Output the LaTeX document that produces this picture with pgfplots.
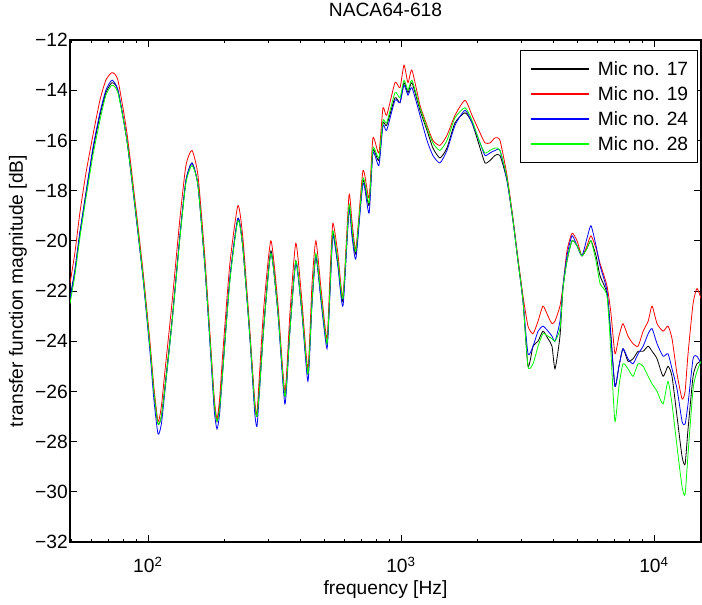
\documentclass[border=0pt]{standalone}
\usepackage{fontspec}
\setmainfont{Liberation Sans}
\usepackage{pgfplots}
\usepackage{pgfplotstable}
\pgfplotsset{compat=1.18}
\definecolor{mred}{rgb}{1,0,0}
\definecolor{mblue}{rgb}{0,0,1}
\definecolor{mgreen}{rgb}{0,1,0}
\newcommand\ff{\fontsize{14.4}{17.3}\selectfont}
\pgfplotstableread{
f      m17    m19    m24    m28
49.2   -22.3  -21.7  -22.3  -22.5
51.4   -21.2  -20.5  -21.2  -21.4
53.8   -19.7  -18.9  -19.7  -19.9
56.9   -18.1  -17.3  -18.1  -18.3
60.6   -16.4  -15.8  -16.3  -16.6
64.6   -15.0  -14.4  -14.9  -15.2
68.2   -14.1  -13.6  -14.0  -14.2
72.1   -13.7  -13.3  -13.6  -13.8
76.1   -14.0  -13.6  -14.0  -14.1
82.6   -16.0  -15.7  -16.0  -16.0
88.9   -18.6  -18.4  -18.7  -18.6
95.6   -21.4  -21.2  -21.5  -21.4
101.8  -24.2  -24.0  -24.4  -24.2
105.5  -26.0  -25.8  -26.3  -26.0
109.6  -27.3  -27.2  -27.7  -27.3
113.0  -27.0  -26.6  -27.3  -27.0
116.7  -25.8  -25.2  -26.0  -25.9
124.4  -23.2  -22.5  -23.3  -23.3
133.8  -19.8  -19.1  -19.8  -19.9
141.3  -17.6  -17.0  -17.6  -17.7
149.3  -16.9  -16.4  -16.9  -17.0
157.7  -17.8  -17.4  -17.8  -17.8
168    -21.0  -20.7  -21.1  -21.0
177.4  -24.5  -24.3  -24.7  -24.5
183    -26.5  -26.3  -26.8  -26.5
187.5  -27.2  -27.1  -27.5  -27.2
192    -26.6  -26.3  -26.9  -26.7
197.9  -25.0  -24.4  -25.1  -25.1
210.8  -21.5  -20.9  -21.5  -21.6
226.8  -19.1  -18.6  -19.1  -19.2
237.3  -20.3  -19.9  -20.3  -20.3
252.9  -23.8  -23.6  -23.9  -23.8
264    -26.5  -26.3  -26.8  -26.5
269.6  -27.0  -26.9  -27.4  -27.0
276    -25.8  -25.3  -26.0  -25.9
287.3  -23.3  -22.6  -23.4  -23.4
306.2  -20.4  -20.0  -20.5  -20.5
326.3  -22.8  -22.5  -22.9  -22.8
347.8  -26.2  -26.0  -26.5  -26.2
364    -23.5  -22.9  -23.6  -23.6
384.3  -20.8  -20.1  -20.9  -20.8
406    -22.8  -22.4  -22.9  -22.8
428.8  -25.3  -25.1  -25.6  -25.3
444.6  -22.5  -21.8  -22.6  -22.5
461    -20.6  -20.0  -20.6  -20.5
483    -22.3  -21.9  -22.4  -22.2
510    -24.1  -23.9  -24.3  -24.1
524    -22.0  -21.4  -22.1  -21.9
538    -19.7  -19.3  -19.8  -19.6
563    -20.9  -20.5  -21.0  -20.8
590    -22.4  -22.2  -22.6  -22.3
623    -18.7  -18.2  -18.8  -18.6
640    -19.6  -19.2  -19.8  -19.5
664    -20.5  -20.3  -20.7  -20.4
708    -17.6  -17.2  -17.7  -17.5
748    -18.6  -18.3  -18.9  -18.5
775    -16.4  -15.9  -16.5  -16.3
818    -16.8  -16.5  -17.0  -16.7
849    -15.3  -14.7  -15.4  -15.2
878    -15.4  -15.0  -15.6  -15.3
947    -14.3  -13.7  -14.4  -14.1
991    -14.5  -13.9  -14.5  -14.3
1028   -13.7  -13.0  -13.8  -13.6
1066   -14.1  -13.7  -14.2  -14.0
1105   -13.7  -13.2  -13.9  -13.6
1189   -14.8  -14.6  -15.0  -14.7
1267   -15.6  -15.4  -16.0  -15.5
1337   -16.3  -16.0  -16.6  -16.1
1425   -16.7  -16.2  -16.9  -16.4
1520   -16.3  -15.8  -16.4  -16.0
1635   -15.3  -15.0  -15.4  -15.1
1791   -14.9  -14.4  -14.8  -14.7
1909   -15.3  -15.0  -15.3  -15.2
2053   -16.3  -15.7  -16.1  -16.1
2148   -16.9  -16.1  -16.6  -16.5
2249   -16.8  -16.1  -16.5  -16.4
2355   -16.6  -15.9  -16.4  -16.3
2462   -16.6  -16.0  -16.4  -16.4
2625   -17.6  -17.4  -17.6  -17.5
2772   -19.2  -19.1  -19.2  -19.2
2900   -20.8  -20.7  -20.8  -20.8
3036   -22.4  -22.2  -22.4  -22.4
3177   -25.0  -23.4  -24.5  -25.0
3326   -24.2  -23.7  -24.2  -24.9
3482   -24.0  -23.2  -23.6  -24.2
3641   -23.6  -22.6  -23.4  -23.7
3811   -23.9  -23.0  -23.6  -23.8
3953   -24.2  -23.3  -23.8  -23.9
4062   -25.1  -23.2  -24.0  -24.0
4250   -23.8  -22.6  -23.2  -23.5
4368   -21.9  -21.8  -21.8  -21.9
4529   -20.8  -20.4  -20.6  -20.8
4742   -20.0  -19.7  -19.8  -20.0
4965   -20.2  -20.0  -20.2  -20.2
5190   -20.6  -20.6  -20.6  -20.6
5434   -20.3  -20.2  -19.9  -20.3
5636   -20.0  -19.8  -19.4  -20.0
5901   -20.6  -20.3  -20.2  -20.8
6120   -21.4  -20.9  -21.0  -21.7
6520   -22.1  -21.8  -22.0  -22.2
6761   -23.8  -22.9  -23.9  -24.5
7010   -25.8  -24.5  -25.8  -27.2
7270   -25.0  -23.8  -25.0  -25.8
7540   -24.3  -23.3  -24.3  -24.9
7894   -24.8  -23.8  -24.7  -25.1
8265   -24.7  -24.1  -24.9  -25.4
8653   -24.4  -24.2  -24.5  -24.9
9060   -24.4  -23.6  -24.2  -25.0
9484   -24.2  -23.2  -23.7  -25.4
9824   -24.4  -22.6  -23.5  -25.7
10280  -24.7  -23.3  -24.1  -26.0
10860  -25.4  -23.6  -24.6  -26.5
11360  -25.0  -23.4  -24.5  -25.6
11780  -25.4  -23.9  -25.1  -26.5
12330  -27.0  -25.3  -25.9  -28.2
12910  -28.6  -26.3  -27.2  -29.8
13270  -28.9  -26.0  -27.3  -30.1
13630  -27.5  -24.5  -26.5  -28.5
14270  -25.4  -22.5  -24.7  -25.9
14790  -24.9  -21.9  -24.6  -25.2
15340  -24.8  -22.3  -24.9  -24.8
}\data
\begin{document}
\begin{tikzpicture}
\begin{axis}[
  scale only axis, width=473.25pt, height=376.5pt,
  xmode=log, xmin=49.2, xmax=15340, ymin=-32, ymax=-12,
  ytick={-32,-30,-28,-26,-24,-22,-20,-18,-16,-14,-12},
  yticklabels={−32,−30,−28,−26,−24,−22,−20,−18,−16,−14,−12},
  xtick={100,1000,10000},
  xticklabels={10\textsuperscript{2},10\textsuperscript{3},10\textsuperscript{4}},
  minor xtick={50,60,70,80,90,200,300,400,500,600,700,800,900,2000,3000,4000,5000,6000,7000,8000,9000},
  tick align=inside, tick pos=both,
  major tick length=5.25pt, minor tick length=2.6pt,
  tick style={black, line width=0.6pt},
  axis line style={line width=0.8pt},
  tick label style={font=\ff},
  yticklabel style={anchor=east, inner sep=0pt, xshift=-1.5pt},
  xticklabel style={anchor=base, yshift=-23.25pt},
  title={NACA64-618},
  title style={font=\ff, at={(axis description cs:0.5,1)}, anchor=base, yshift=11.25pt},
  xlabel={frequency [Hz]},
  xlabel style={font=\ff, at={(axis description cs:0.5,0)}, anchor=base, yshift=-39.75pt},
  ylabel={transfer function magnitude [dB]},
  ylabel style={font=\ff, at={(axis description cs:-0.0824,0.5)}, anchor=center},
  legend style={at={(axis description cs:0.9952,0.980)}, anchor=north east, draw=black, line width=0.8pt,
    font=\ff, inner xsep=7pt, inner ysep=8.7pt, row sep=8.45pt, column sep=6pt,
    nodes={inner sep=0pt, text height=10.3pt, text depth=0pt}},
  legend cell align=left,
  legend image code/.code={\draw[#1] (0pt,0pt) -- (43.5pt,0pt);},
  every axis plot/.append style={line width=0.6pt, smooth, tension=0.35},
]
\addplot[black, forget plot] table[x=f, y=m17] {\data};
\addplot[mred, forget plot] table[x=f, y=m19] {\data};
\addplot[mblue, forget plot] table[x=f, y=m24] {\data};
\addplot[mgreen, forget plot] table[x=f, y=m28] {\data};
\addlegendimage{draw=black, line width=1.2pt}
\addlegendentry{Mic no. 17}
\addlegendimage{draw=mred, line width=1.2pt}
\addlegendentry{Mic no. 19}
\addlegendimage{draw=mblue, line width=1.2pt}
\addlegendentry{Mic no. 24}
\addlegendimage{draw=mgreen, line width=1.2pt}
\addlegendentry{Mic no. 28}
\end{axis}
\pgfresetboundingbox
\path[use as bounding box] (current axis.south west) ++(-52.5pt,-47.25pt) rectangle ++(526.5pt,453.75pt);
\end{tikzpicture}
\end{document}
